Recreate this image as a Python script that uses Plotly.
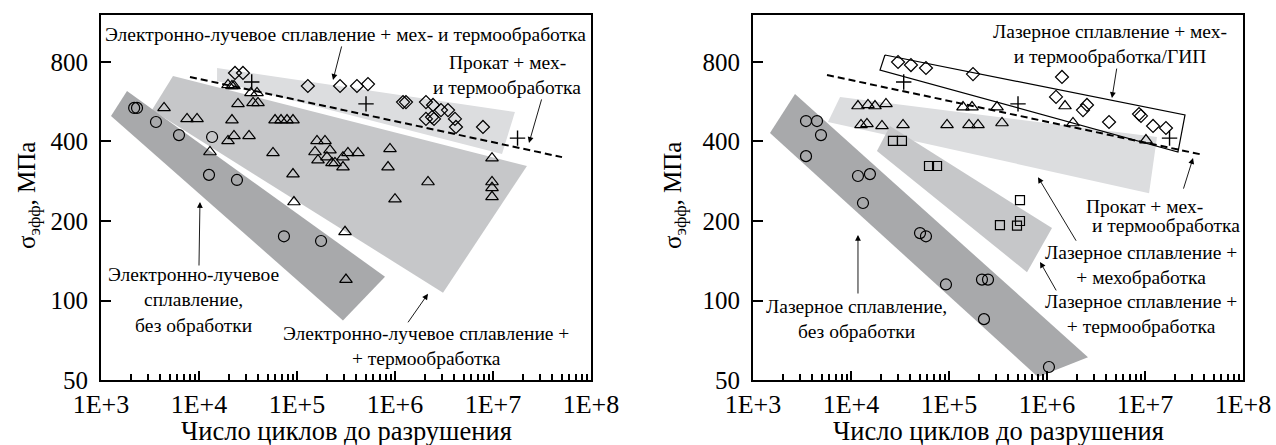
import math
import plotly.graph_objects as go

# ---------------- data: left panel (electron-beam melting) ----------------
L_circ_N = [2180, 2330, 3640, 6250, 13600, 12650, 24400, 73600, 176000]
L_circ_S = [536, 536, 474, 423, 416, 299, 286, 175, 168]

L_tri_N = [4400, 7550, 9550, 19770, 21700, 22750, 33900, 39100, 35600, 40000,
           25000, 21700, 59700, 68700, 79100, 91000, 22750, 19770, 32400, 12940,
           56900, 91000, 93100, 160000, 193000, 152700, 217000, 163800, 202000,
           227500, 244000, 294600, 331000, 419000, 294600, 889000, 849000,
           2172000, 1000000, 9770000, 9770000, 9770000, 9770000, 309000, 316000]
L_tri_S = [536, 487, 487, 655, 649, 649, 611, 611, 560, 560,
           555, 482, 482, 482, 482, 482, 420, 402, 420, 365,
           362, 301, 236, 402, 402, 365, 371, 340, 349,
           332, 332, 349, 362, 362, 320, 375, 320,
           281, 242, 346, 281, 267, 247, 182, 120]

L_dia_N = [23300, 28100, 129000, 275000, 409000, 530000, 1208000, 1294000,
           2070000, 2443000, 2946000, 3474000, 2070000, 2388000, 2502000,
           4093000, 4190000, 7900000]
L_dia_S = [727, 727, 649, 649, 649, 660, 564, 564, 564, 550, 526, 526,
           487, 495, 487, 487, 454, 454]

roll_N = [34500, 506000, 17800000]
roll_S = [672, 555, 412]

L_dash_N = [8090, 50600000]
L_dash_S = [702, 349]

L_dark_N = [1265, 1842, 791000, 294600]
L_dark_S = [500, 621, 123, 84]
L_mid_N = [5430, 22200000, 3090000, 3310]
L_mid_S = [708, 323, 107, 526]
L_light_N = [15280, 16750000, 12360000, 15280]
L_light_S = [759, 517, 359, 678]

# ---------------- data: right panel (laser melting) ----------------
R_circ_N = [3475, 4500, 4940, 3475, 11780, 15600, 13250, 50600, 58200, 93100,
            217000, 250000, 227500, 1047000]
R_circ_S = [478, 478, 423, 352, 296, 301, 234, 180, 175, 115, 120, 120, 85, 56]

R_tri_N = [11780, 14900, 17570, 22750, 12650, 14550, 20700, 33950, 95500,
           139000, 171700, 309000, 160000, 197700, 347500, 1527000, 1842000,
           10230000]
R_tri_S = [545, 550, 545, 555, 462, 466, 458, 462, 462,
           540, 540, 540, 462, 462, 470, 545, 470, 405]

R_sq_N = [26800, 33100, 62500, 75500, 331000, 494000, 530000, 530000]
R_sq_S = [402, 402, 323, 323, 193, 192, 200, 240]

R_dia_N = [30200, 40900, 58200, 175800, 1422000, 1236000, 2558000, 2330000,
           4295000, 8690000, 9100000, 12080000, 16360000]
R_dia_S = [800, 779, 759, 720, 702, 590, 550, 526, 474, 508, 500, 458, 450]

R_dash_N = [5690, 39100000]
R_dash_S = [714, 356]

R_box_N = [22200, 25600000, 21700000, 19770, 22200]
R_box_S = [850, 504, 365, 746, 850]

R_light_N = [7730, 13250000, 11000000, 5820]
R_light_S = [590, 416, 255, 474]
R_mid_N = [25000, 1125000, 625000, 18400]
R_mid_S = [458, 188, 128, 368]
R_dark_N = [2684, 2620000, 809000, 1490]
R_dark_S = [605, 61, 51.3, 431]

x_tickvals = [1e3, 1e4, 1e5, 1e6, 1e7, 1e8]
x_ticktext = ["1E+3", "1E+4", "1E+5", "1E+6", "1E+7", "1E+8"]
y_tickvals = [50, 100, 200, 400, 800]
y_ticktext = ["50", "100", "200", "400", "800"]

DARK = "#a8a9ab"
MID = "#c6c7c9"
LIGHT = "#dcdddf"
FONT = "Liberation Serif, Times New Roman, DejaVu Serif, serif"
ANN_SIZE = 19.5

fig = go.Figure()


def band(N, S, color, xa, ya):
    fig.add_trace(go.Scatter(x=N + N[:1], y=S + S[:1], mode="lines", fill="toself",
                             fillcolor=color, line=dict(width=0, color=color),
                             hoverinfo="skip", showlegend=False, xaxis=xa, yaxis=ya))


def pts(N, S, symbol, size, xa, ya, lw=1.2):
    fig.add_trace(go.Scatter(x=N, y=S, mode="markers",
                             marker=dict(symbol=symbol, size=size, color="black",
                                         line=dict(width=lw, color="black")),
                             showlegend=False, xaxis=xa, yaxis=ya))


def dash(N, S, xa, ya):
    fig.add_trace(go.Scatter(x=N, y=S, mode="lines",
                             line=dict(color="black", width=2, dash="7px,4px"),
                             showlegend=False, xaxis=xa, yaxis=ya))


# left
band(L_light_N, L_light_S, LIGHT, "x", "y")
band(L_mid_N, L_mid_S, MID, "x", "y")
band(L_dark_N, L_dark_S, DARK, "x", "y")
dash(L_dash_N, L_dash_S, "x", "y")
pts(L_circ_N, L_circ_S, "circle-open", 11, "x", "y")
pts(L_tri_N, L_tri_S, "triangle-up-open", 11, "x", "y")
pts(L_dia_N, L_dia_S, "diamond-open", 10, "x", "y")
pts(roll_N, roll_S, "cross-thin-open", 11, "x", "y", lw=1.4)

# right
band(R_light_N, R_light_S, LIGHT, "x2", "y2")
band(R_mid_N, R_mid_S, MID, "x2", "y2")
band(R_dark_N, R_dark_S, DARK, "x2", "y2")
fig.add_trace(go.Scatter(x=R_box_N, y=R_box_S, mode="lines",
                         line=dict(color="black", width=1.2),
                         showlegend=False, xaxis="x2", yaxis="y2"))
dash(R_dash_N, R_dash_S, "x2", "y2")
pts(R_circ_N, R_circ_S, "circle-open", 11, "x2", "y2")
pts(R_tri_N, R_tri_S, "triangle-up-open", 11, "x2", "y2")
pts(R_sq_N, R_sq_S, "square-open", 9, "x2", "y2")
pts(R_dia_N, R_dia_S, "diamond-open", 10, "x2", "y2")
pts(roll_N, roll_S, "cross-thin-open", 11, "x2", "y2", lw=1.4)

W, H = 1276, 445
ydom = [1 - 380 / H, 1 - 15 / H]

xaxis_common = dict(type="log", range=[3, 8], tickvals=x_tickvals, ticktext=x_ticktext,
                    ticks="inside", ticklen=9, tickwidth=2, tickcolor="black",
                    showline=True, linewidth=2, linecolor="black", mirror=True,
                    showgrid=False, zeroline=False, automargin=False,
                    tickfont=dict(family=FONT, size=26, color="black"),
                    ticklabelstandoff=0,
                    minor=dict(ticks="inside", ticklen=6, tickwidth=1.5, tickcolor="black",
                               dtick="D1", showgrid=False))
yaxis_common = dict(type="log", range=[math.log10(50), math.log10(1205)],
                    tickvals=y_tickvals, ticktext=y_ticktext,
                    ticks="inside", ticklen=10, tickwidth=2, tickcolor="black",
                    showline=True, linewidth=2, linecolor="black", mirror=True,
                    showgrid=False, zeroline=False, automargin=False,
                    tickfont=dict(family=FONT, size=25, color="black"),
                    ticklabelstandoff=6)

fig.update_layout(
    template="none",
    width=W, height=H, margin=dict(l=0, r=0, t=0, b=0, autoexpand=False),
    paper_bgcolor="white", plot_bgcolor="white",
    font=dict(family=FONT, color="black"),
    showlegend=False,
    xaxis=dict(domain=[101 / W, 591 / W], anchor="y", **xaxis_common),
    yaxis=dict(domain=ydom, anchor="x", **yaxis_common),
    xaxis2=dict(domain=[753 / W, 1243 / W], anchor="y2", **xaxis_common),
    yaxis2=dict(domain=ydom, anchor="x2", **yaxis_common),
)

L = math.log10
anns = []


def txt(xr, yr, N, S, text, size=ANN_SIZE):
    anns.append(dict(xref=xr, yref=yr, x=L(N), y=L(S), text=text, showarrow=False,
                     xanchor="center", yanchor="middle",
                     font=dict(family=FONT, size=size, color="black"), align="center"))


def arrow(xr, yr, N, S, dx, dy):
    anns.append(dict(xref=xr, yref=yr, x=L(N), y=L(S), text="", showarrow=True,
                     ax=dx, ay=dy, arrowhead=2, arrowsize=1.3, arrowwidth=0.9,
                     arrowcolor="black"))


# left annotations
txt("x", "y", 316000, 1013, "Электронно-лучевое сплавление + мех- и термообработка")
arrow("x", "y", 233000, 684, 9, -35)
txt("x", "y", 13900000, 793, "Прокат + мех-")
txt("x", "y", 13900000, 643, "и термообработка")
arrow("x", "y", 23300000, 395, 13, -45)
txt("x", "y", 8700, 100.5, "Электронно-лучевое<br>сплавление,<br>без обработки")
arrow("x", "y", 10230, 236, -1, 65)
txt("x", "y", 2070000, 67, "Электронно-лучевое сплавление +<br>+ термообработка")
arrow("x", "y", 2172000, 106, -21, 30)

# right annotations
txt("x2", "y2", 4395000, 936, "Лазерное сплавление + мех-<br>и термообработка/ГИП")
arrow("x2", "y2", 4600000, 584, 5, -31)
txt("x2", "y2", 9770000, 226, "Прокат + мех-")
txt("x2", "y2", 16360000, 193, "и термообработка")
arrow("x2", "y2", 30900000, 346, -10, 32)
txt("x2", "y2", 9100000, 136, "Лазерное сплавление +<br>+ мехобработка")
arrow("x2", "y2", 809000, 293, 39, 65)
txt("x2", "y2", 9100000, 89, "Лазерное сплавление +<br>+ термообработка")
arrow("x2", "y2", 849000, 140, 17, 30)
txt("x2", "y2", 11500, 85, "Лазерное сплавление,<br>без обработки")
arrow("x2", "y2", 11780, 177, 0, 60)

# axis titles
for cx in (346, 998):
    anns.append(dict(xref="paper", yref="paper", x=cx / W, y=1 - 431 / H,
                     xanchor="center", yanchor="middle",
                     text="Число циклов до разрушения", showarrow=False,
                     font=dict(family=FONT, size=26.5, color="black")))
for cx in (28, 674):
    anns.append(dict(xref="paper", yref="paper", x=cx / W, y=1 - 196 / H,
                     xanchor="center", yanchor="middle",
                     text="σ<sub>эфф</sub>, МПа", showarrow=False, textangle=-90,
                     font=dict(family=FONT, size=25, color="black")))

fig.update_layout(annotations=anns)
fig.write_html("out.html", config={"displayModeBar": False},
               post_script="document.body.style.margin='0';document.body.style.overflow='hidden';")
